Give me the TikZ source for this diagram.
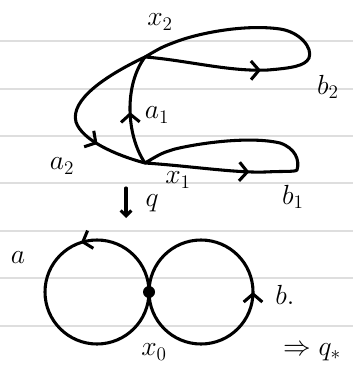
\documentclass[tikz,border=0pt]{standalone}
\usetikzlibrary{arrows.meta,decorations.markings}
\begin{document}
\begin{tikzpicture}[x=0.75pt,y=-0.75pt,
  ink/.style={line width=2.3pt,line cap=round,line join=round},
  rule/.style={draw=black!13,line width=1.1pt},
  lbl/.style={font=\huge},
  markat/.style={postaction={decorate,decoration={markings,
     mark=at position #1 with {\arrow[line width=2.3pt]{Straight Barb[length=6pt,width=14pt]}}}}}
]
\useasboundingbox (0,0) rectangle (353,370);
% ruled lines
\foreach \yy in {41,89,136,183,231,278,326}
  \draw[rule] (0,\yy) -- (353,\yy);
% points
\coordinate (x2) at (145,57);
\coordinate (x1) at (145,163);
\coordinate (x0) at (149,292);
% a1
\draw[ink,markat=0.48] (x1) .. controls (126,135) and (124,85) .. (x2);
% a2
\draw[ink,markat=0.72] (x2) .. controls (105,76) and (70,100) .. (76,122)
   .. controls (82,140) and (115,155) .. (x1);
% b2 loop
\draw[ink,markat=0.33] (x2) .. controls (185,60) and (230,72) .. (268,70)
   .. controls (292,68) and (305,66) .. (309,58)
   .. controls (313,48) and (300,32) .. (280,29)
   .. controls (245,24) and (200,33) .. (178,41)
   .. controls (162,47) .. (x2);
% b1 loop
\draw[ink,markat=0.32] (x1) .. controls (190,166) and (235,173) .. (265,172)
   .. controls (285,171) and (295,172) .. (297,170)
   .. controls (300,160) and (295,148) .. (280,143)
   .. controls (250,136) and (200,143) .. (175,149)
   .. controls (162,153) .. (x1);
% q arrow
\coordinate (qs) at (126,188);
\coordinate (qe) at (126,218);
\draw[ink,-{Straight Barb[length=4pt,width=8pt]}] (qs) -- (qe);
% bottom circles
\draw[ink,markat=0.3] (x0) arc[start angle=0,end angle=-360,radius=52];
\draw[ink,markat=0.5] (x0) arc[start angle=180,end angle=-180,radius=52];
\fill (x0) circle[radius=6];
% labels
\node[lbl] (lx2) at (160,22) {$x_2$};
\node[lbl] (la1) at (157,115) {$a_1$};
\node[lbl] (lb2) at (328,87) {$b_2$};
\node[lbl] (la2) at (62,166) {$a_2$};
\node[lbl] (lx1) at (178,180) {$x_1$};
\node[lbl] (lb1) at (293,197) {$b_1$};
\node[lbl] (lq) at (152,203) {$q$};
\node[lbl] (la) at (18,258) {$a$};
\node[lbl] (lb) at (285,295) {$b.$};
\node[lbl] (lx0) at (154,352) {$x_0$};
\node[lbl] (lr) at (312,352) {$\Rightarrow q_*$};
\end{tikzpicture}
\end{document}
